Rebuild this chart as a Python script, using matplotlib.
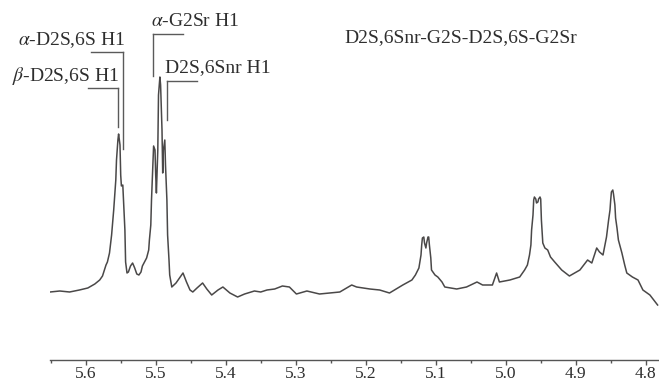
import matplotlib
matplotlib.use("Agg")
import matplotlib.pyplot as plt
from matplotlib.ticker import MultipleLocator

plt.rcParams['font.family'] = ['Liberation Serif', 'DejaVu Serif']
plt.rcParams['mathtext.fontset'] = 'stix'

# 1H NMR spectrum, chemical shift (ppm) vs intensity (a.u.)
ppm = [5.651, 5.637, 5.623, 5.609, 5.597, 5.587, 5.580, 5.576, 5.571, 5.569,
       5.566, 5.563, 5.560, 5.557, 5.556, 5.554, 5.553, 5.551, 5.550, 5.549,
       5.547, 5.546, 5.544, 5.543, 5.541, 5.539, 5.536, 5.533, 5.530, 5.527,
       5.524, 5.521, 5.519, 5.516, 5.513, 5.510, 5.509, 5.507, 5.506, 5.504,
       5.503, 5.501, 5.500, 5.499, 5.497, 5.496, 5.494, 5.493, 5.491, 5.490,
       5.489, 5.487, 5.486, 5.484, 5.483, 5.481, 5.480, 5.477, 5.471, 5.466,
       5.461, 5.456, 5.451, 5.447, 5.441, 5.433, 5.427, 5.420, 5.411, 5.404,
       5.394, 5.383, 5.373, 5.359, 5.350, 5.341, 5.330, 5.319, 5.309, 5.299,
       5.284, 5.266, 5.251, 5.237, 5.220, 5.213, 5.194, 5.180, 5.166, 5.147,
       5.134, 5.129, 5.124, 5.121, 5.120, 5.119, 5.117, 5.116, 5.114, 5.113,
       5.111, 5.110, 5.109, 5.107, 5.106, 5.101, 5.097, 5.091, 5.087, 5.070,
       5.056, 5.041, 5.033, 5.019, 5.013, 5.009, 4.994, 4.980, 4.973, 4.969,
       4.966, 4.964, 4.963, 4.961, 4.960, 4.959, 4.957, 4.956, 4.954, 4.953,
       4.951, 4.950, 4.949, 4.947, 4.944, 4.940, 4.936, 4.930, 4.920, 4.909,
       4.894, 4.883, 4.877, 4.870, 4.866, 4.861, 4.859, 4.856, 4.853, 4.851,
       4.850, 4.849, 4.847, 4.846, 4.844, 4.843, 4.841, 4.839, 4.834, 4.830,
       4.827, 4.819, 4.811, 4.804, 4.794, 4.783]
intensity = [68, 69, 68, 70, 72, 76, 80, 84, 95, 98,
             107, 125, 150, 180, 200, 220, 226, 215, 185, 174,
             175, 160, 130, 98, 87, 88, 94, 97, 92, 86,
             85, 88, 94, 98, 102, 110, 120, 135, 160, 195,
             214, 210, 185, 167, 210, 265, 283, 275, 230, 187,
             210, 220, 195, 160, 125, 100, 85, 73, 77, 82,
             87, 78, 70, 68, 72, 77, 71, 65, 70, 73,
             67, 63, 66, 69, 68, 70, 71, 74, 73, 66,
             69, 66, 67, 68, 75, 73, 71, 70, 67, 75,
             80, 85, 92, 105, 115, 122, 123, 117, 112, 117,
             123, 123, 115, 102, 90, 85, 83, 78, 73, 71,
             73, 78, 75, 75, 87, 78, 80, 83, 90, 95,
             105, 115, 130, 145, 160, 163, 161, 157, 158, 161,
             163, 161, 140, 117, 112, 110, 103, 98, 90, 84,
             90, 100, 97, 112, 108, 105, 112, 123, 140, 150,
             160, 168, 170, 166, 155, 142, 132, 120, 107, 95,
             87, 83, 80, 70, 65, 55]

xticks = [5.6, 5.5, 5.4, 5.3, 5.2, 5.1, 5.0, 4.9, 4.8]

# peak labels with their bracket lines (horizontal arm, then vertical leg down to the peak)
labels = ["$\\alpha$-D2S,6S H1", "$\\beta$-D2S,6S H1", "$\\alpha$-G2Sr H1", "D2S,6Snr H1"]
bracket_x = [(5.593, 5.546), (5.597, 5.554), (5.461, 5.504), (5.441, 5.484)]
bracket_y = [(308, 211), (272, 233), (326, 284), (279, 240)]
text_pos = [(5.544, 315, 'right'), (5.552, 279, 'right'), (5.506, 334, 'left'), (5.487, 288, 'left')]

line_col = '#4a4848'
text_col = '#2e2e2e'

fig = plt.figure(figsize=(6.59, 3.82), dpi=100)
ax = fig.add_axes([50 / 659, 22 / 382, 609 / 659, 360 / 382])

ax.plot(ppm, intensity, color=line_col, lw=1.1)

for lab, bx, by, tp in zip(labels, bracket_x, bracket_y, text_pos):
    leg_x = bx[1]
    ax.plot([bx[0], bx[1]], [by[0], by[0]], color='#5a5a5a', lw=1.0)
    ax.plot([leg_x, leg_x], [by[0], by[1]], color='#5a5a5a', lw=1.0)
    ax.text(tp[0], tp[1], lab, ha=tp[2], va='baseline', fontsize=14, color=text_col)

ax.text(5.23, 318, "D2S,6Snr-G2S-D2S,6S-G2Sr", ha='left', va='baseline',
        fontsize=14, color=text_col)

ax.set_xlim(5.651, 4.781)
ax.set_ylim(0, 360)

for s in ['top', 'left', 'right']:
    ax.spines[s].set_visible(False)
ax.spines['bottom'].set_color('#555555')
ax.spines['bottom'].set_linewidth(1.0)

ax.set_xticks(xticks)
ax.set_xticklabels([f"{t:.1f}" for t in xticks])
ax.xaxis.set_minor_locator(MultipleLocator(0.05))
ax.tick_params(axis='x', which='major', direction='out', length=3.5, width=1,
               color='#555555', labelsize=12.5, labelcolor=text_col, pad=1)
ax.tick_params(axis='x', which='minor', direction='out', length=2.5, width=1,
               color='#555555')
ax.set_yticks([])

fig.savefig('out.png', dpi=100)
